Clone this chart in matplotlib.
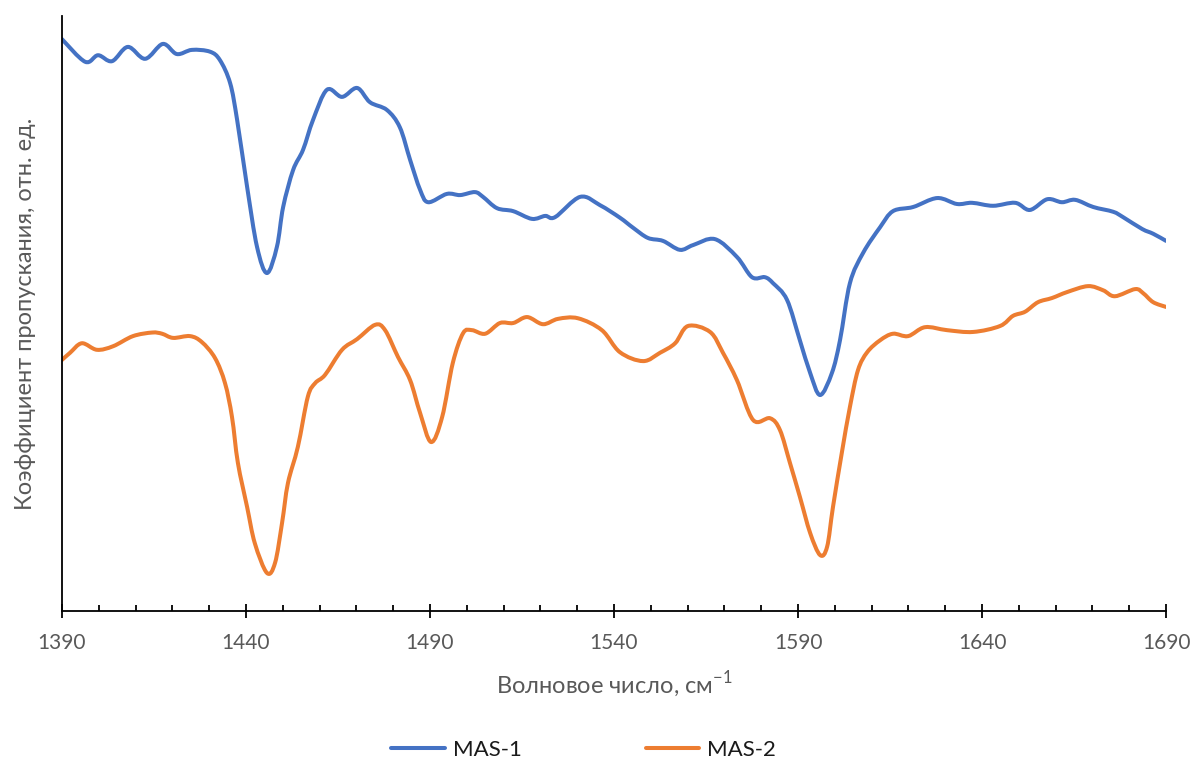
import numpy as np
import matplotlib
matplotlib.use('Agg')
import matplotlib.pyplot as plt
from matplotlib.path import Path
from matplotlib.patches import PathPatch
from matplotlib.lines import Line2D
from matplotlib.ticker import MultipleLocator

# FTIR transmittance spectra, relative units
wn_mas1 = [1390, 1396.3, 1399.8, 1403.6, 1407.9, 1412.6, 1417.4, 1421.2, 1425.3, 1430.2,
           1432.9, 1435.7, 1437.6, 1440.3, 1443.0, 1445.7, 1448.4, 1450.1,
           1452.8, 1455.5, 1458.2, 1462.0, 1466.1, 1470.2, 1473.7, 1478.3, 1481.8, 1484.6,
           1487.3, 1489.5, 1494.6, 1498.2, 1502.2, 1504.4, 1508.2, 1512.6, 1517.7, 1521.3,
           1524.0, 1530.8, 1536.2, 1541.6, 1545.2, 1549.2, 1553.3, 1557.9, 1561.5, 1567.4,
           1573.4, 1577.5, 1581.0, 1583.2, 1587.0, 1590.5, 1593.3, 1596.0,
           1599.2, 1601.4, 1604.1, 1607.7, 1612.3, 1615.8, 1621.3, 1627.8, 1633.2, 1637.3,
           1643.0, 1649.0, 1653.0, 1657.7, 1661.7, 1665.3, 1670.2, 1675.6, 1678.3, 1683.5,
           1686.5, 1690]
t_mas1 = [96.1, 92.3, 93.4, 92.4, 94.8, 92.8, 95.3, 93.6, 94.3, 94.0,
          92.6, 88.7, 82.5, 71.3, 61.2, 56.8, 61.2, 67.9,
          74.1, 77.5, 82.5, 87.6, 86.4, 87.9, 85.5, 84.2, 81.3, 75.8,
          70.8, 68.7, 70.1, 69.9, 70.4, 69.6, 67.7, 67.2, 65.9, 66.4,
          66.2, 69.6, 68.2, 66.1, 64.4, 62.7, 62.2, 60.7, 61.5, 62.5,
          59.5, 56.1, 56.1, 55.1, 52.3, 45.5, 40.0, 36.3,
          40.0, 45.5, 55.1, 60.2, 64.5, 67.2, 67.9, 69.4, 68.4, 68.6,
          68.1, 68.6, 67.4, 69.2, 68.7, 69.1, 67.9, 67.1, 66.2, 64.2,
          63.4, 62.2]

wn_mas2 = [1390, 1392.2, 1395.4, 1399.5, 1403.9, 1409.3, 1414.5, 1417.2, 1420.2, 1424.8,
           1428.0, 1431.6, 1434.3, 1436.2, 1437.8, 1440.3, 1442.4, 1445.7, 1447.9,
           1449.8, 1451.4, 1454.1, 1456.8, 1458.8, 1461.5, 1466.1, 1470.2, 1475.1,
           1477.8, 1481.3, 1484.6, 1487.3, 1490.3, 1493.3, 1496.2, 1499.0, 1501.4, 1505.0,
           1509.0, 1512.6, 1516.4, 1520.7, 1524.8, 1530.2, 1536.7, 1541.6, 1547.9, 1552.5,
           1556.6, 1560.1, 1566.1, 1569.6, 1573.4, 1577.8, 1582.4, 1585.1, 1587.8, 1590.5,
           1593.3, 1596.0, 1597.9, 1599.5, 1601.9, 1604.1, 1606.3, 1608.8, 1612.3,
           1615.8, 1619.9, 1624.5, 1630.5, 1637.6, 1644.9, 1648.4, 1651.7, 1655.2, 1659.0,
           1663.1, 1668.8, 1672.9, 1676.1, 1681.6, 1683.8, 1686.5, 1690]
t_mas2 = [42.2, 43.4, 45.0, 43.9, 44.5, 46.2, 46.8, 46.6, 45.9, 46.2,
          45.2, 42.5, 38.3, 32.6, 24.9, 17.5, 11.4, 6.4, 8.1,
          14.8, 21.5, 27.6, 36.0, 38.3, 39.7, 43.9, 45.7, 48.1,
          47.2, 42.7, 38.8, 33.3, 28.4, 32.6, 41.7, 46.7, 47.2, 46.6,
          48.4, 48.4, 49.4, 48.2, 49.1, 49.2, 47.2, 43.5, 42.0, 43.4,
          45.0, 47.9, 46.9, 43.4, 38.8, 32.1, 32.4, 30.4, 24.9, 19.2,
          13.1, 9.4, 10.8, 17.5, 26.6, 34.3, 40.5, 43.5, 45.5,
          46.6, 46.2, 47.7, 47.2, 46.9, 47.9, 49.6, 50.3, 51.9, 52.6,
          53.6, 54.6, 53.9, 52.9, 54.1, 53.4, 51.9, 51.1]

labels = ['MAS-1', 'MAS-2']
colors = ['#4472C4', '#ED7D31']

FONT = ['Lato', 'Open Sans', 'DejaVu Sans']
GRAY = '#595959'
LW = 2.9

plt.rcParams['font.family'] = FONT
plt.rcParams['mathtext.fontset'] = 'custom'
plt.rcParams['mathtext.rm'] = 'Lato'


def smooth_path(x, y):
    # smoothed line through the points: cubic Bezier segments (Catmull-Rom tangents)
    p = np.column_stack([x, y]).astype(float)
    ext = np.vstack([p[0], p, p[-1]])
    verts = [p[0]]
    codes = [Path.MOVETO]
    for i in range(len(p) - 1):
        p0, p1, p2, p3 = ext[i], ext[i + 1], ext[i + 2], ext[i + 3]
        verts += [p1 + (p2 - p0) / 6.0, p2 - (p3 - p1) / 6.0, p2]
        codes += [Path.CURVE4] * 3
    return Path(verts, codes)


fig = plt.figure(figsize=(11.94, 7.6), dpi=100)
ax = fig.add_axes([0.0519, 0.196, 0.9247, 0.783])

for xs, ys, c in [(wn_mas1, t_mas1, colors[0]), (wn_mas2, t_mas2, colors[1])]:
    ax.add_patch(PathPatch(smooth_path(xs, ys), fill=False, edgecolor=c, lw=LW,
                           capstyle='round', joinstyle='round'))

ax.set_xlim(1390, 1690)
ax.set_ylim(0, 100)
ax.set_xticks(np.arange(1390, 1691, 50))
ax.xaxis.set_minor_locator(MultipleLocator(10))
ax.set_yticks([])

ax.spines['top'].set_visible(False)
ax.spines['right'].set_visible(False)
ax.spines['left'].set_linewidth(1.3)
ax.spines['bottom'].set_linewidth(1.3)

ax.tick_params(axis='x', which='major', direction='inout', length=9.5, width=1.3,
               labelsize=15, labelcolor=GRAY, pad=11)
ax.tick_params(axis='x', which='minor', direction='in', length=4.5, width=1.3)

ax.set_xlabel(r'Волновое число, см$^{\mathregular{-1}}$', fontsize=17, color=GRAY, labelpad=12)
ax.set_ylabel('Коэффициент пропускания, отн. ед.', fontsize=17, color=GRAY, labelpad=19)

handles = [Line2D([], [], color=c, lw=LW, solid_capstyle='round') for c in colors]
fig.legend(handles, labels, loc='center', bbox_to_anchor=(0.489, 0.013), ncol=2,
           frameon=False, fontsize=16, handlelength=2.4, handletextpad=0.36,
           columnspacing=5.6, labelcolor='#1a1a1a')

fig.savefig('out.png', dpi=100)
